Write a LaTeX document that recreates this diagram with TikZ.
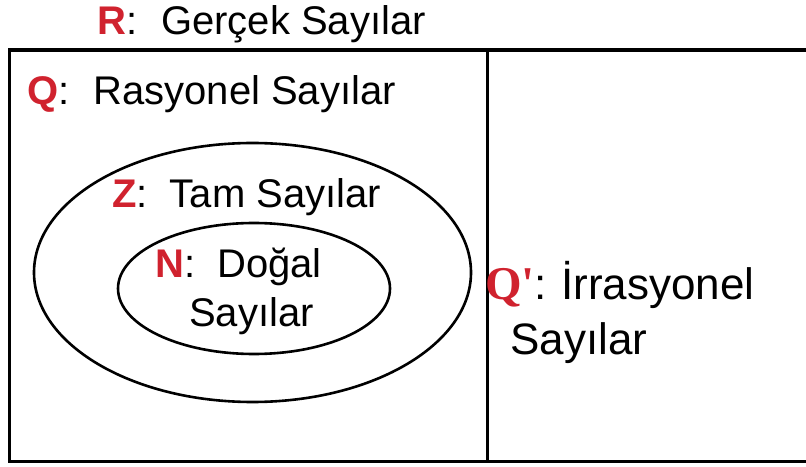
\documentclass[tikz,border=0pt]{standalone}
\usepackage{fontspec}
\setmainfont{Liberation Sans}
\newfontfamily\serifQ{Liberation Serif Bold}
\definecolor{setred}{RGB}{208,34,46}
\begin{document}
\begin{tikzpicture}[x=1pt,y=1pt,
  lbl/.style={anchor=base west,inner sep=0pt,font=\fontsize{40}{46}\selectfont},
  lblbig/.style={anchor=base west,inner sep=0pt,font=\fontsize{44}{50}\selectfont},
  boxline/.style={line width=3.4pt},
  ellline/.style={line width=2.6pt}]
\useasboundingbox (0,0) rectangle (806,466);
\draw[boxline] (9.5,416) rectangle (830,4.5);
\draw[line width=3pt] (487,416) coordinate (dtop) -- (487,4.5) coordinate (dbot);
\draw[ellline] (252.5,193.5) ellipse [x radius=218.5,y radius=129.5];
\draw[ellline] (254,177.5) ellipse [x radius=136,y radius=65.5];
\node[lbl] (R) at (97,431) {\textcolor{setred}{\bfseries R}:\hspace{0.6em}Gerçek Sayılar};
\node[lbl] (Q) at (27,361) {\textcolor{setred}{\bfseries Q}:\hspace{0.6em}Rasyonel Sayılar};
\node[lbl] (Z) at (112,258) {\textcolor{setred}{\bfseries Z}:\hspace{0.55em}Tam Sayılar};
\node[lbl] (N) at (155,188) {\textcolor{setred}{\bfseries N}:\hspace{0.55em}Doğal};
\node[lbl] (N2) at (189,139) {Sayılar};
\node[anchor=base west,inner sep=0pt] (Qp) at (485,166) {{\fontsize{47}{50}\serifQ\selectfont\color{setred}Q\textquotesingle}{\fontsize{44}{50}\selectfont:}};
\node[lblbig] (Qp1) at (561,166) {İrrasyonel};
\node[lblbig] (Qp2) at (510,111) {Sayılar};
\end{tikzpicture}
\end{document}
